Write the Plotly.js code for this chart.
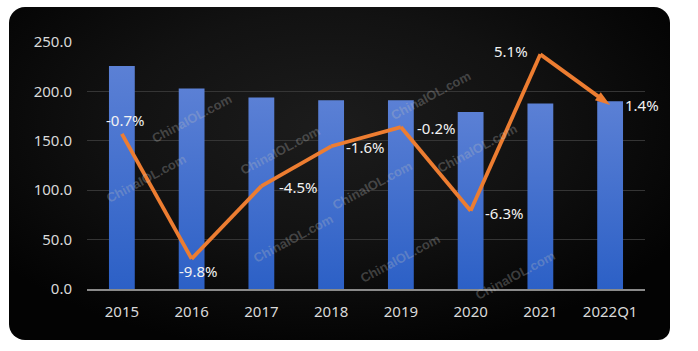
<!DOCTYPE html>
<html><head><meta charset="utf-8">
<script src="https://cdn.plot.ly/plotly-3.0.1.min.js"></script>
<style>
html,body{margin:0;padding:0;background:#fff;width:698px;height:351px;overflow:hidden;}
#panel{position:absolute;left:9px;top:7px;width:661px;height:333px;border-radius:16px 16px 12px 16px;
  background:radial-gradient(ellipse 62% 68% at 48% 36%, #1c1c1c 0%, #121212 50%, #030303 100%);}
#chart{position:absolute;left:0;top:0;width:698px;height:351px;}
</style></head><body>
<div id="panel"></div><div id="chart"></div>
<script>
// ---- data ----
const categories = ['2015','2016','2017','2018','2019','2020','2021','2022Q1'];
const outputValues = [225.6, 203.0, 193.8, 191.1, 191.1, 179.2, 187.8, 190.1];
const growthRates = [-0.7, -9.8, -4.5, -1.6, -0.2, -6.3, 5.1, 1.4];
const growthLabels = ['-0.7%','-9.8%','-4.5%','-1.6%','-0.2%','-6.3%','5.1%','1.4%'];
const yTickValues = [0, 50, 100, 150, 200, 250];
const watermarkText = 'ChinaIOL.com';

// ---- styles ----
const labelAnchor = ['center','center','left','left','left','left','right','left'];
const labelXShift = [3, 6, 16, 13, 14, 12, -10, 13];
const labelYShift = [14, -12, -1, -1, -1, -2, 3.5, 0];
const wmPos = [[147,89],[280,150],[431,66],[101,208],[248,268],[372,185],[400,288],[522,148],[560,305]];
const L = 87, R = 645, T = 42, B = 289;

const FONT = 'Noto Sans, Open Sans, DejaVu Sans, sans-serif';

const bars = {
  type: 'bar', x: categories, y: outputValues, width: 0.37,
  marker: {color: '#4470d0', line: {width: 0}}, hoverinfo: 'skip', yaxis: 'y'
};
const n = categories.length;
const line = {
  type: 'scatter', mode: 'lines+markers', x: categories, y: growthRates, yaxis: 'y2',
  line: {color: '#ED7D31', width: 3.8},
  marker: {
    color: '#ED7D31', opacity: 1,
    size: categories.map((c, i) => i === n - 1 ? 16 : 0),
    symbol: categories.map((c, i) => i === n - 1 ? 'arrow' : 'circle'),
    angleref: 'previous',
    line: {width: 0, color: '#ED7D31'}
  },
  hoverinfo: 'skip', cliponaxis: false
};

const annotations = [];
wmPos.forEach(p => annotations.push({
  text: '<b>' + watermarkText + '</b>', xref: 'paper', yref: 'paper',
  x: (p[0] - L) / (R - L), y: (B - p[1]) / (B - T), showarrow: false, textangle: -28,
  font: {family: 'Liberation Sans, Arial, sans-serif', size: 13, color: 'rgba(190,190,190,0.3)'}
}));
growthRates.forEach((v, i) => annotations.push({
  x: i, y: v, xref: 'x', yref: 'y2', text: growthLabels[i], showarrow: false,
  xanchor: labelAnchor[i], yanchor: 'middle', xshift: labelXShift[i], yshift: labelYShift[i],
  font: {family: FONT, size: 15, color: '#f2f2f2'}
}));

const layout = {
  width: 698, height: 351,
  margin: {l: L, r: 698 - R, t: T, b: 351 - B, pad: 0},
  paper_bgcolor: 'rgba(0,0,0,0)', plot_bgcolor: 'rgba(0,0,0,0)',
  showlegend: false,
  font: {family: FONT, size: 15, color: '#d9d9d9'},
  xaxis: {
    type: 'category', range: [-0.5, n - 0.5], showgrid: false, showline: true, linecolor: '#8a8a8a', linewidth: 2,
    ticks: '', ticklabelstandoff: 8, tickfont: {family: FONT, size: 15, color: '#d9d9d9'},
    fixedrange: true
  },
  yaxis: {
    range: [0, 250], tickvals: yTickValues, tickformat: '.1f', showgrid: true,
    gridcolor: '#353535', gridwidth: 1, zeroline: false, showline: false, ticks: '',
    ticklabelstandoff: 14, tickfont: {family: FONT, size: 15, color: '#d9d9d9'}, fixedrange: true
  },
  yaxis2: {range: [-12, 6], overlaying: 'y', side: 'right', visible: false, fixedrange: true},
  annotations: annotations
};

Plotly.newPlot('chart', [bars, line], layout, {staticPlot: true, displayModeBar: false}).then(gd => {
  const svg = gd.querySelector('.main-svg');
  const ns = 'http://www.w3.org/2000/svg';
  let defs = svg.querySelector('defs');
  if (!defs) { defs = document.createElementNS(ns, 'defs'); svg.insertBefore(defs, svg.firstChild); }
  const lg = document.createElementNS(ns, 'linearGradient');
  lg.setAttribute('id', 'barGrad'); lg.setAttribute('x1', '0'); lg.setAttribute('y1', '0');
  lg.setAttribute('x2', '0'); lg.setAttribute('y2', '1');
  [['0%', '#5b80d5'], ['100%', '#2c60c6']].forEach(s => {
    const st = document.createElementNS(ns, 'stop');
    st.setAttribute('offset', s[0]); st.setAttribute('stop-color', s[1]); lg.appendChild(st);
  });
  defs.appendChild(lg);
  gd.querySelectorAll('.barlayer .point path').forEach(p => { p.style.fill = 'url(#barGrad)'; });
});
</script>
</body></html>
